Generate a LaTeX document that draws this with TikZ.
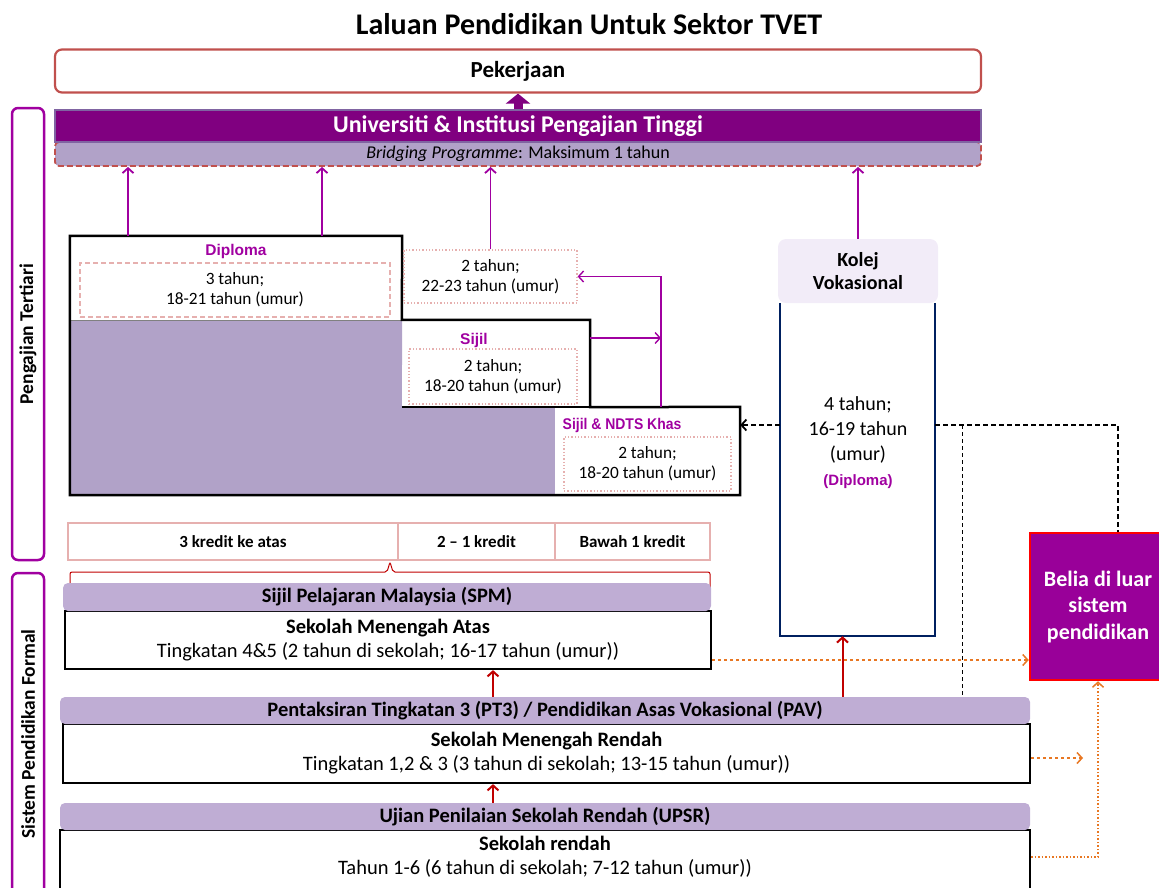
\documentclass[tikz,border=0pt]{standalone}
\usepackage{fontspec}
\setmainfont{Carlito}
\newfontfamily\arialfont{Liberation Sans}
\newfontfamily\narrowfont[FakeStretch=0.9]{Liberation Sans}
\usetikzlibrary{arrows.meta}

\definecolor{unipurple}{HTML}{800080}
\definecolor{unirim}{HTML}{8064A2}
\definecolor{lilac}{HTML}{B1A2C8}
\definecolor{barlilac}{HTML}{BFADD4}
\definecolor{headlilac}{HTML}{F2ECF8}
\definecolor{linkpurple}{HTML}{A000A0}
\definecolor{brickred}{HTML}{C0504D}
\definecolor{pinkrim}{HTML}{E6B0AF}
\definecolor{navy}{HTML}{002060}
\definecolor{darkred}{HTML}{C00000}
\definecolor{dropout}{HTML}{E87722}
\definecolor{beliafill}{HTML}{990099}

\begin{document}
\begin{tikzpicture}[
        x=1pt, y=-1pt,
        >={Straight Barb[length=5pt,width=11pt]},
        bar/.style={rectangle, rounded corners=5pt, fill=barlilac, inner sep=0pt, font=\fontsize{20.5}{24}\selectfont\bfseries},
        school/.style={rectangle, draw, line width=2.2pt, inner sep=0pt, align=center, font=\fontsize{20.5}{24}\selectfont},
        pinkbox/.style={rectangle, draw=pinkrim, dash pattern=on 5pt off 3pt, line width=1.3pt, inner sep=0pt, align=center, font=\fontsize{17.3}{20}\selectfont},
        steplabel/.style={text=linkpurple, inner sep=1pt, font=\arialfont\fontsize{15.5}{18}\selectfont\bfseries},
        credit/.style={rectangle, draw=pinkrim, line width=2pt, inner sep=0pt, minimum height=37pt, font=\fontsize{17}{20}\selectfont\bfseries},
        sidelabel/.style={rectangle, rounded corners=6pt, draw=linkpurple, line width=2.5pt, rotate=90, minimum height=32pt, inner sep=0pt, font=\fontsize{19.5}{22}\selectfont\bfseries},
        uparrow/.style={->, linkpurple, line width=1.8pt},
        redarrow/.style={->, darkred, line width=2pt},
        orangedash/.style={->, dropout, dashed, line width=1.5pt},
        blackdash/.style={black, line width=1.8pt, dash pattern=on 5pt off 3pt}
    ]
        \useasboundingbox (0,0) rectangle (1159,887);

        % Title and top bars
        \node[font=\fontsize{30}{34}\selectfont\bfseries] (title) at (589,24) {Laluan Pendidikan Untuk Sektor TVET};
        \node[rectangle, rounded corners=7pt, draw=brickred, line width=2.2pt, minimum width=926pt, minimum height=43pt, font=\fontsize{23}{26}\selectfont\bfseries] (pek) at (518,71) {Pekerjaan};
        \node[rectangle, rounded corners=4pt, fill=lilac, draw=brickred, dash pattern=on 6pt off 3pt, line width=1.8pt, minimum width=926pt, minimum height=24pt, inner sep=0pt, font=\fontsize{18}{20}\selectfont] (bridge) at (518,154) {\textit{Bridging Programme}: Maksimum 1 tahun};
        \node[rectangle, fill=unipurple, draw=unirim, line width=1.5pt, minimum width=926pt, minimum height=32pt, inner sep=0pt, text=white, font=\fontsize{24}{26}\selectfont\bfseries] (univ) at (518,126) {Universiti \& Institusi Pengajian Tinggi};
        \draw[unipurple, line width=9pt, -{Triangle[width=24pt,length=10pt]}] (univ.north) -- (pek.south);

        % Side labels
        \node[sidelabel, minimum width=452pt] (tertiari) at (28,334) {Pengajian Tertiari};
        \node[sidelabel, minimum width=322pt] (formal) at (28,734) {Sistem Pendidikan Formal};

        % Staircase of tertiary programmes
        \node[minimum width=332pt, minimum height=84pt, inner sep=0pt] (diploma) at (236,278) {};
        \node[minimum width=188pt, minimum height=87pt, inner sep=0pt] (sijil) at (496,363.5) {};
        \node[minimum width=185pt, minimum height=88pt, inner sep=0pt] (ndts) at (647.5,451) {};
        \fill[lilac] (diploma.south west) -- (diploma.south east) -- (sijil.south west) -- (ndts.north west) -- (ndts.south west) -- (diploma.west |- ndts.south) -- cycle;
        \draw[gray, line width=0.8pt] (diploma.south west) -- (diploma.south east);
        \draw[line width=2pt] (sijil.south west) -- (sijil.south east);
        \draw[line width=2.5pt] (diploma.north west) -- (diploma.north east) -- (sijil.north west) -- (sijil.north east) -- (sijil.south east) -- (ndts.north east) -- (ndts.south east) -- (diploma.west |- ndts.south) -- cycle;

        \node[steplabel] (diplabel) at (236,251) {Diploma};
        \node[pinkbox, minimum width=310pt, minimum height=54pt] (dipyrs) at (235,290) {3 tahun;\\18-21 tahun (umur)};
        \node[pinkbox, dotted, minimum width=173pt, minimum height=53pt] (yrs22) at (490.5,276.5) {2 tahun;\\22-23 tahun (umur)};
        \node[steplabel] (sijillabel) at (474,340) {Sijil};
        \node[pinkbox, dotted, minimum width=168pt, minimum height=55pt] (sijilyrs) at (493,376.5) {2 tahun;\\18-20 tahun (umur)};
        \node[steplabel, font=\narrowfont\fontsize{15.5}{18}\selectfont\bfseries] (ndtslabel) at (622,425) {Sijil \& NDTS Khas};
        \node[pinkbox, dotted, minimum width=167pt, minimum height=54pt] (ndtsyrs) at (647.5,464) {2 tahun;\\18-20 tahun (umur)};

        % Kolej Vokasional
        \node[rectangle, rounded corners=8pt, fill=headlilac, minimum width=160pt, minimum height=64pt, inner sep=0pt, align=center, font=\fontsize{20}{23}\selectfont\bfseries] (kvhead) at (858,271) {Kolej\\Vokasional};
        \node[minimum width=155pt, minimum height=333pt, inner sep=0pt] (kv) at (857.5,469.5) {};
        \draw[navy, line width=2.5pt] (kv.north west) -- (kv.south west) -- (kv.south east) -- (kv.north east);
        \node[align=center, font=\fontsize{20}{25}\selectfont] (kvtext) at (858,443) {4 tahun;\\16-19 tahun\\(umur)\\{\arialfont\bfseries\color{linkpurple}\fontsize{15}{18}\selectfont (Diploma)}};

        % Credit row
        \foreach \cx/\cw/\ctext [count=\i] in {233/330/3 kredit ke atas, 476.5/157/2 \textendash{} 1 kredit, 632.5/155/Bawah 1 kredit} {
            \node[credit, minimum width=\cw pt] (cred\i) at (\cx,541.5) {\ctext};
        }
        \draw[darkred, line width=1pt, rounded corners=2pt] (70,590) -- (70,572) -- (387,572) -- (390,562) -- (393,572) -- (710,572) -- (710,590);

        % School levels
        \node[school, minimum width=646pt, minimum height=58pt] (sma) at (388,640) {\textbf{Sekolah Menengah Atas}\\Tingkatan 4\&5 (2 tahun di sekolah; 16-17 tahun (umur))};
        \node[bar, minimum width=648pt, minimum height=28pt] (spm) at (387,597) {Sijil Pelajaran Malaysia (SPM)};
        \node[school, minimum width=967pt, minimum height=59pt] (smr) at (546.5,753.5) {\textbf{Sekolah Menengah Rendah}\\Tingkatan 1,2 \& 3 (3 tahun di sekolah; 13-15 tahun (umur))};
        \node[bar, minimum width=970pt, minimum height=27pt] (pt3) at (545,710.5) {Pentaksiran Tingkatan 3 (PT3) / Pendidikan Asas Vokasional (PAV)};
        \node[school, minimum width=970pt, minimum height=90pt] (sr) at (545,875) {};
        \node[align=center, font=\fontsize{20.5}{24}\selectfont] (srtext) at (545,857) {\textbf{Sekolah rendah}\\Tahun 1-6 (6 tahun di sekolah; 7-12 tahun (umur))};
        \node[bar, minimum width=970pt, minimum height=27pt] (upsr) at (545,816.5) {Ujian Penilaian Sekolah Rendah (UPSR)};

        % Out of school youth
        \node[rectangle, fill=beliafill, draw=red, line width=2.5pt, minimum width=136pt, minimum height=147pt, inner sep=0pt, align=center, text=white, font=\fontsize{22}{26.5}\selectfont\bfseries] (belia) at (1098,606.5) {Belia di luar\\sistem\\pendidikan};

        % Arrows to university
        \foreach \dx in {-108,86} {
            \draw[uparrow] ([xshift=\dx pt]diploma.north) -- ([xshift=\dx pt]diploma.north |- bridge.south);
        }
        \draw[uparrow] (yrs22.north) -- (yrs22.north |- bridge.south);
        \draw[uparrow] (kvhead.north) -- (kvhead.north |- bridge.south);

        % Sijil to 2 tahun
        \coordinate (joint) at (661,338);
        \draw[uparrow, line width=1.4pt] (sijil.east |- joint) -- (joint);
        \draw[uparrow, line width=1.4pt] (ndts.north -| joint) -- (joint |- yrs22.east) -- (yrs22.east);

        % Dashed links from Kolej Vokasional
        \coordinate (kvlevel) at (858,425);
        \coordinate (kvsplit) at (962,425);
        \coordinate (beliatop) at ([xshift=20pt]belia.north);
        \draw[blackdash, ->] (kv.west |- kvlevel) -- (ndts.east |- kvlevel);
        \draw[blackdash] (kv.east |- kvlevel) -- (beliatop |- kvlevel) -- (beliatop);
        \draw[black, line width=1pt, dash pattern=on 4pt off 3pt] (kvsplit) -- (kvsplit |- pt3.north);

        % Progression arrows
        \coordinate (spine) at (493,700);
        \coordinate (kvfeed) at ([xshift=-15pt]kv.south);
        \draw[redarrow] (pt3.north -| spine) -- (sma.south -| spine);
        \draw[redarrow] (upsr.north -| spine) -- (smr.south -| spine);
        \draw[redarrow] (kvfeed |- pt3.north) -- (kvfeed);

        % Drop out arrows
        \coordinate (smaout) at ([yshift=-20pt]sma.east);
        \coordinate (smrout) at (1083,758);
        \coordinate (srout) at ([yshift=18pt]sr.east);
        \draw[orangedash] (smaout) -- (smaout -| belia.west);
        \draw[orangedash] (smr.east |- smrout) -- (smrout);
        \draw[->, dropout, dotted, line width=1.5pt] (srout) -- (srout -| belia.south) -- (belia.south);

    \end{tikzpicture}
\end{document}
